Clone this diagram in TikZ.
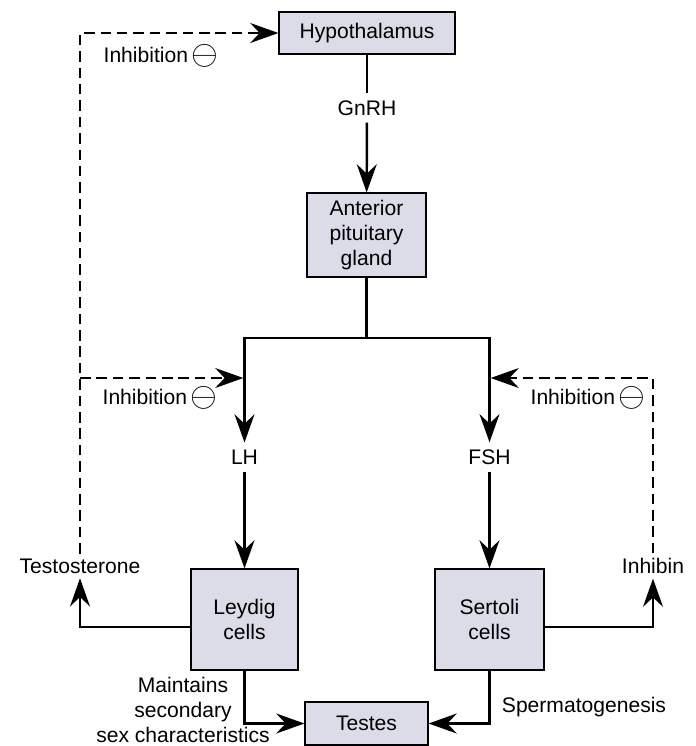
\documentclass[tikz,border=0pt]{standalone}
\usepackage{fontspec}
\setmainfont{Liberation Sans}
\usetikzlibrary{arrows.meta}
\definecolor{boxfill}{RGB}{220,220,232}
\newcommand{\minussign}{\raisebox{-2pt}{\scalebox{1.7}{$\ominus$}}}
\tikzset{
  organ/.style={draw, line width=1pt, fill=boxfill, align=center, inner sep=0pt},
  link/.style={line width=2.1pt},
  flow/.style={link, -{Stealth[length=24pt,width=17pt,inset=8pt]}},
  feedback/.style={flow, dash pattern=on 9pt off 5pt},
  hormone/.style={inner sep=6pt},
}
\begin{document}
\begin{tikzpicture}[x=0.03cm, y=-0.03cm, font=\fontsize{18}{21}\selectfont]
\useasboundingbox (0,0) rectangle (696,746);
% glands and cells
\node[organ, minimum width=5.28cm, minimum height=1.26cm] (hypo) at (367,33) {Hypothalamus};
\node[organ, minimum width=3.57cm, minimum height=2.52cm] (ant) at (366.5,235) {Anterior\\pituitary\\gland};
\node[organ, minimum width=3.21cm, minimum height=3.03cm] (leydig) at (244.5,619.5) {Leydig\\cells};
\node[organ, minimum width=3.27cm, minimum height=3.03cm] (sertoli) at (489.5,619.5) {Sertoli\\cells};
\node[organ, minimum width=3.69cm, minimum height=1.29cm] (testes) at (366.5,723.5) {Testes};
% hormones
\node[hormone] (gnrh) at (367,108) {GnRH};
\node[hormone] (lh) at (244.5,457) {LH};
\node[hormone] (fsh) at (489.5,457) {FSH};
\node[inner sep=4pt] (testo) at (80,566) {Testosterone};
\node[inner sep=4pt] (inhibin) at (653,566) {Inhibin};
% labels
\node (inhtop) at (161,56) {Inhibition\,\minussign};
\node (inhleft) at (160,398) {Inhibition\,\minussign};
\node (inhright) at (588,398) {Inhibition\,\minussign};
\node[align=center] (maint) at (183,710) {Maintains\\secondary\\sex characteristics};
\node (sperm) at (584,707) {Spermatogenesis};
% junctions
\coordinate (split) at (366.5,338);
\coordinate (ltap) at (80,378);
\coordinate (lhin) at (244.5,378);
\coordinate (fshin) at (489.5,378);
% axis
\draw[link] (hypo) -- (gnrh);
\draw[flow] (gnrh) -- (ant);
\draw[link] (ant) -- (split);
\draw[flow] (split) -| (lh);
\draw[flow] (split) -| (fsh);
\draw[flow] (lh) -- (leydig);
\draw[flow] (fsh) -- (sertoli);
\draw[flow] ([yshift=-0.22cm]leydig.west) -| (testo);
\draw[flow] ([yshift=-0.22cm]sertoli.east) -| (inhibin);
\draw[flow] (leydig.south) |- (testes.west);
\draw[flow] (sertoli.south) |- (testes.east);
% negative feedback
\draw[feedback] (testo.north) |- (hypo.west);
\draw[feedback, shorten >=1pt] (ltap) -- (lhin);
\draw[feedback, shorten >=1pt] (inhibin.north) |- (fshin);
\end{tikzpicture}
\end{document}
